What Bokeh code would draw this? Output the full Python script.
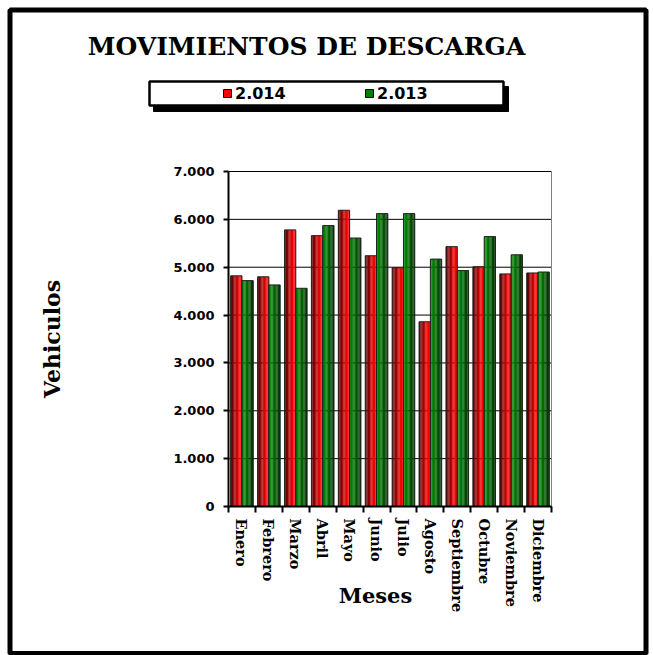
import math
import numpy as np
from bokeh.plotting import figure
from bokeh.models import (FixedTicker, BoxAnnotation, Legend, LegendItem, Label,
                          ColumnDataSource, LinearAxis, Range1d)
from bokeh.embed import file_html
from bokeh.resources import INLINE

# ---------------- data ----------------
months = ["Enero", "Febrero", "Marzo", "Abril", "Mayo", "Junio", "Julio",
          "Agosto", "Septiembre", "Octubre", "Noviembre", "Diciembre"]
y2014 = [4820, 4800, 5780, 5660, 6190, 5240, 4990, 3860, 5430, 5010, 4860, 4880]
y2013 = [4720, 4630, 4560, 5870, 5610, 6120, 6120, 5170, 4930, 5640, 5260, 4900]
series_names = ["2.014", "2.013"]
y_ticks = [0, 1000, 2000, 3000, 4000, 5000, 6000, 7000]
y_tick_labels = ["0", "1.000", "2.000", "3.000", "4.000", "5.000", "6.000", "7.000"]
title_text = "MOVIMIENTOS DE DESCARGA"
x_title = "Meses"
y_title = "Vehiculos"

# ---------------- geometry (canvas pixels) ----------------
W, H = 653, 655
PL, PR, PT, PB = 228, 551, 171, 506          # plot area edges on the canvas
nmon = len(months)
ymax = y_ticks[-1]
ux = (PR - PL) / nmon                        # px per category
uy = (PB - PT) / ymax                        # px per unit
x0 = -0.5 - PL / ux
x1 = nmon - 0.5 + (W - PR) / ux
y0 = -(H - PB) / uy
y1 = ymax + PT / uy

p = figure(width=W, height=H, output_backend="svg", toolbar_location=None,
           x_range=Range1d(x0, x1), y_range=Range1d(y0, y1),
           x_axis_location=None, y_axis_location=None, min_border=0)
p.background_fill_color = "white"
p.border_fill_color = "white"
p.outline_line_color = None
for g in p.grid:
    g.visible = False

idx = np.arange(nmon)

# horizontal grid lines, limited to the plot area
p.segment(x0=[-0.5] * len(y_ticks), x1=[nmon - 0.5] * len(y_ticks),
          y0=y_ticks, y1=y_ticks, line_color="black", line_width=1)

red_cols = ["#5a0000", "#6e0000", "#860000", "#a00000", "#bd0000",
            "#d80000", "#ee0000", "#fc0000", "#ff0000"]
green_cols = ["#007a00", "#008000", "#007a00", "#006e00", "#006200",
              "#005600", "#004a00", "#003e00", "#003400"]

bw = 0.42
n = len(red_cols)
sw = bw / n

def draw_series(vals, off, cols):
    for k, c in enumerate(cols):
        src = ColumnDataSource(dict(x=idx + off + (k - (n - 1) / 2) * sw, top=vals))
        p.vbar(x="x", top="top", width=sw * 1.05, bottom=0, source=src,
               fill_color=c, line_color=None)
    src = ColumnDataSource(dict(x=idx + off, top=vals))
    p.vbar(x="x", top="top", width=bw, bottom=0, source=src,
           fill_color=None, line_color="#222222", line_width=1)

draw_series(y2014, -bw / 2, red_cols)
draw_series(y2013, bw / 2, green_cols)

# grey right border of the plot area
p.segment(x0=[nmon - 0.5], x1=[nmon - 0.5], y0=[0], y1=[ymax],
          line_color="#808080", line_width=1)

# ---------------- axes ----------------
yticker = FixedTicker(ticks=y_ticks)
yax = LinearAxis(fixed_location=-0.5, bounds=(0, ymax), ticker=yticker)
yax.major_label_overrides = {t: l for t, l in zip(y_ticks, y_tick_labels)}
yax.major_label_text_font = "DejaVu Sans"
yax.major_label_text_font_style = "bold"
yax.major_label_text_font_size = "13px"
yax.major_label_text_color = "black"
yax.major_label_standoff = 9
yax.axis_line_color = "black"
yax.axis_line_width = 2
yax.major_tick_line_color = "black"
yax.major_tick_line_width = 2
yax.major_tick_out = 5
yax.major_tick_in = 0
yax.minor_tick_line_color = None
yax.axis_label = y_title
yax.axis_label_text_font = "DejaVu Serif"
yax.axis_label_text_font_style = "bold"
yax.axis_label_text_font_size = "22px"
yax.axis_label_text_color = "black"
yax.axis_label_standoff = 105
p.add_layout(yax, "left")

xax = LinearAxis(fixed_location=0, bounds=(-0.5, nmon - 0.5),
                 ticker=FixedTicker(ticks=list(idx),
                                    minor_ticks=[i - 0.5 for i in range(nmon + 1)]))
xax.major_label_overrides = {int(i): m for i, m in zip(idx, months)}
xax.major_label_orientation = -math.pi / 2
xax.major_label_text_font = "DejaVu Serif"
xax.major_label_text_font_style = "bold"
xax.major_label_text_font_size = "14.5px"
xax.major_label_text_color = "black"
xax.major_label_standoff = 6
xax.axis_line_color = "black"
xax.axis_line_width = 2
xax.major_tick_line_color = None
xax.minor_tick_line_color = "black"
xax.minor_tick_line_width = 2
xax.minor_tick_out = 6
xax.minor_tick_in = 0
p.add_layout(xax, "below")

# ---------------- texts ----------------
p.add_layout(Label(x=306, y=H - 46, x_units="screen", y_units="screen", text=title_text,
                   text_font="DejaVu Serif", text_font_style="bold",
                   text_font_size="25px", text_align="center", text_baseline="middle",
                   text_color="black"))
p.add_layout(Label(x=375, y=H - 595, x_units="screen", y_units="screen", text=x_title,
                   text_font="DejaVu Serif", text_font_style="bold",
                   text_font_size="21px", text_align="center", text_baseline="middle",
                   text_color="black"))

# ---------------- outer frame & legend box ----------------
def box(l, r, t, b, fill, lw):
    return BoxAnnotation(left=l, right=r, top=H - t, bottom=H - b,
                         left_units="screen", right_units="screen",
                         top_units="screen", bottom_units="screen",
                         fill_color=fill, fill_alpha=0 if fill is None else 1,
                         line_color="black", line_alpha=1, line_width=lw)

p.add_layout(box(9.5, 645.5, 9.5, 653, None, 5))
p.add_layout(box(153, 508, 86, 111, "black", 1))
p.add_layout(box(149, 503, 81, 105, "white", 2.5))

leg_red = p.vbar(x=[0], top=[0], width=0, fill_color="#ff0000", line_color="black")
leg_grn = p.vbar(x=[0], top=[0], width=0, fill_color="#008000", line_color="black")
legend = Legend(items=[LegendItem(label=series_names[0], renderers=[leg_red]),
                       LegendItem(label=series_names[1], renderers=[leg_grn])],
                orientation="horizontal", location=(222, H - 102.5),
                padding=0, margin=0, spacing=69, label_width=60,
                glyph_width=10, glyph_height=10, label_standoff=3,
                border_line_color=None, background_fill_alpha=0,
                label_text_font="DejaVu Sans", label_text_font_style="bold",
                label_text_font_size="16px", label_text_color="black")
p.add_layout(legend, "center")

open("out.html", "w").write(file_html(p, INLINE))
